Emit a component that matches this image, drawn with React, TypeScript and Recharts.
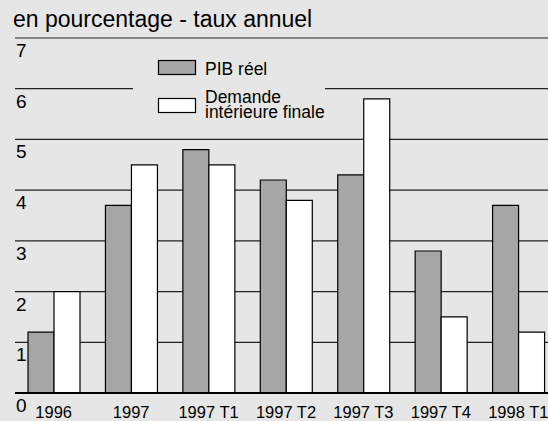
import { BarChart, Bar, XAxis, YAxis, CartesianGrid } from "recharts";

const categories = ["1996", "1997", "1997 T1", "1997 T2", "1997 T3", "1997 T4", "1998 T1"];
const pibReel = [1.2, 3.7, 4.8, 4.2, 4.3, 2.8, 3.7];
const demandeInterieure = [2.0, 4.5, 4.5, 3.8, 5.8, 1.5, 1.2];
const yTicks = [0, 1, 2, 3, 4, 5, 6, 7];

const data = categories.map((cat, i) => ({
  cat,
  pib: pibReel[i],
  demande: demandeInterieure[i],
}));

const FONT = '"Liberation Sans", Arial, sans-serif';
const BG = "#e6e6e6";
const GREY = "#a6a6a6";

function YTick(props: any) {
  const { y, payload } = props;
  return (
    <text x={16} y={y + 19} fontSize={19} fontFamily={FONT} fill="#000" textAnchor="start">
      {payload.value}
    </text>
  );
}

function XTick(props: any) {
  const { x, y, payload } = props;
  return (
    <text x={x} y={y + 16.5} fontSize={16.5} fontFamily={FONT} fill="#000" textAnchor="middle">
      {payload.value}
    </text>
  );
}

// legend sits on top of the chart and hides the 6 gridline behind it
function LegendBox() {
  return (
    <svg
      width={192}
      height={80}
      style={{ position: "absolute", left: 133, top: 48, display: "block", background: BG }}
    >
      <rect x={25.5} y={12.5} width={37} height={14} fill={GREY} stroke="#000" strokeWidth={1.2} />
      <text x={72} y={27} fontSize={17.5} fontFamily={FONT} fill="#000">PIB réel</text>
      <rect x={25.5} y={50.5} width={37} height={14} fill="#fff" stroke="#000" strokeWidth={1.2} />
      <text x={72} y={54.5} fontSize={17.5} fontFamily={FONT} fill="#000">
        <tspan x={72}>Demande</tspan>
        <tspan x={72} dy={15.5}>intérieure finale</tspan>
      </text>
    </svg>
  );
}

export default function App() {
  return (
    <div
      style={{
        position: "fixed",
        left: 0,
        top: 0,
        width: 548,
        height: 421,
        overflow: "hidden",
        background: BG,
        fontFamily: FONT,
      }}
    >
      <div
        style={{
          position: "absolute",
          left: 13,
          top: 7.5,
          fontSize: 23,
          lineHeight: "23px",
          color: "#000",
          whiteSpace: "nowrap",
        }}
      >
        en pourcentage - taux annuel
      </div>
      <BarChart
        width={560}
        height={421}
        data={data}
        margin={{ top: 38, right: 3, bottom: 1, left: 15 }}
        barCategoryGap="16.8%"
        barGap={0}
      >
        <CartesianGrid vertical={false} stroke="#222" strokeWidth={1.2} />
        <YAxis
          domain={[0, 7]}
          ticks={yTicks}
          mirror
          axisLine={false}
          tickLine={false}
          tick={<YTick />}
          interval={0}
        />
        <XAxis
          dataKey="cat"
          height={27}
          axisLine={{ stroke: "#000", strokeWidth: 2 }}
          tickLine={false}
          tick={<XTick />}
          interval={0}
        />
        <Bar dataKey="pib" name="PIB réel" fill={GREY} stroke="#000" strokeWidth={1.2} isAnimationActive={false} />
        <Bar
          dataKey="demande"
          name="Demande intérieure finale"
          fill="#fff"
          stroke="#000"
          strokeWidth={1.2}
          isAnimationActive={false}
        />
      </BarChart>
      <LegendBox />
    </div>
  );
}
